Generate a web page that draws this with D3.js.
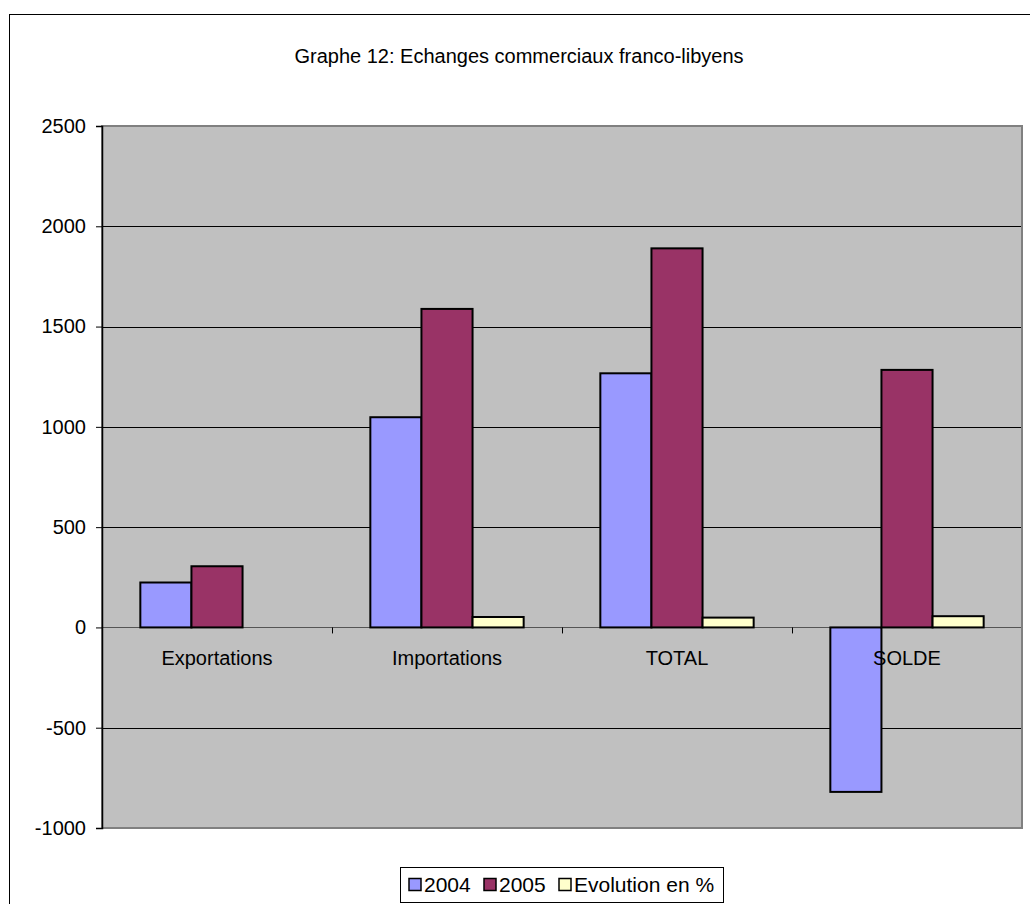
<!DOCTYPE html>
<html>
<head>
<meta charset="utf-8">
<script src="https://cdn.jsdelivr.net/npm/d3@7"></script>
<style>
  body { margin: 0; background: #fff; }
  text { font-family: "Liberation Sans", Arial, sans-serif; fill: #000; }
</style>
</head>
<body>
<svg id="chart" width="1030" height="904"></svg>
<script>
// data
var categories = ["Exportations", "Importations", "TOTAL", "SOLDE"];
var seriesNames = ["2004", "2005", "Evolution en %"];
var values2004 = [224, 1048, 1267, -820];
var values2005 = [305, 1588, 1890, 1284];
var evolution = [null, 52, 49, 56];
var yTicks = [-1000, -500, 0, 500, 1000, 1500, 2000, 2500];

var colors = ["#9999ff", "#993366", "#ffffcc"];

// layout
var plotLeft = 102, plotRight = 1022, plotTop = 126, plotBottom = 828;

var svg = d3.select("#chart");

// outer chart frame
svg.append("rect")
    .attr("x", 9.5).attr("y", 14.5)
    .attr("width", 1030).attr("height", 900)
    .attr("fill", "#fff")
    .attr("stroke", "#000");

// title
svg.append("text")
    .attr("x", 519).attr("y", 63)
    .attr("text-anchor", "middle")
    .style("font-size", "20px")
    .text("Graphe 12: Echanges commerciaux franco-libyens");

var y = d3.scaleLinear().domain([-1000, 2500]).range([plotBottom, plotTop]);
var x0 = d3.scaleBand().domain(categories).range([plotLeft, plotRight]);
// 150% gap width: group = 3 bars + 1.5 bar
var barW = x0.bandwidth() / 4.5;
var x1 = d3.scaleBand().domain(seriesNames)
    .range([barW * 0.75, barW * 3.75]).padding(0);

// plot area
svg.append("rect")
    .attr("x", plotLeft).attr("y", plotTop)
    .attr("width", plotRight - plotLeft).attr("height", plotBottom - plotTop)
    .attr("fill", "#c0c0c0")
    .attr("stroke", "#808080").attr("stroke-width", 2);

// gridlines
svg.append("g").selectAll("line")
    .data(yTicks.filter(function (d) { return d !== -1000 && d !== 2500; }))
    .join("line")
    .attr("x1", plotLeft).attr("x2", plotRight - 1)
    .attr("y1", function (d) { return Math.round(y(d)) + 0.5; })
    .attr("y2", function (d) { return Math.round(y(d)) + 0.5; })
    .attr("stroke", function (d) { return d === 0 ? "#555" : "#000"; })
    .attr("stroke-width", 1);

// bars
var series = [values2004, values2005, evolution];
var barData = [];
categories.forEach(function (c, i) {
    seriesNames.forEach(function (s, j) {
        if (series[j][i] !== null) barData.push({cat: c, name: s, value: series[j][i], color: colors[j]});
    });
});

svg.append("g").selectAll("rect")
    .data(barData)
    .join("rect")
    .attr("x", function (d) { return x0(d.cat) + x1(d.name); })
    .attr("y", function (d) { return y(Math.max(0, d.value)); })
    .attr("width", x1.bandwidth())
    .attr("height", function (d) { return Math.abs(y(d.value) - y(0)); })
    .attr("fill", function (d) { return d.color; })
    .attr("stroke", "#000").attr("stroke-width", 2);

// y axis
var yAxis = d3.axisLeft(y).tickValues(yTicks).tickSize(6)
    .tickFormat(function (d) { return String(d); });
var gy = svg.append("g")
    .attr("transform", "translate(" + plotLeft + ",0)")
    .call(yAxis);
gy.select(".domain").attr("stroke", "#000").attr("stroke-width", 1.5);
gy.selectAll(".tick line").attr("stroke", "#000");
gy.selectAll(".tick text")
    .attr("x", -16)
    .style("font-size", "20px")
    .style("font-family", "'Liberation Sans', Arial, sans-serif");

// x category ticks on zero line
svg.append("g").selectAll("line")
    .data(categories.slice(1))
    .join("line")
    .attr("x1", function (d) { return Math.round(x0(d)) + 0.5; })
    .attr("x2", function (d) { return Math.round(x0(d)) + 0.5; })
    .attr("y1", y(0)).attr("y2", y(0) + 6)
    .attr("stroke", "#000");

// category labels
svg.append("g").selectAll("text")
    .data(categories)
    .join("text")
    .attr("x", function (d) { return x0(d) + x0.bandwidth() / 2; })
    .attr("y", y(0) + 37.5)
    .attr("text-anchor", "middle")
    .style("font-size", "20px")
    .text(function (d) { return d; });

// legend
var legend = svg.append("g");
legend.append("rect")
    .attr("x", 400.5).attr("y", 867.5)
    .attr("width", 323).attr("height", 35)
    .attr("fill", "#fff").attr("stroke", "#000");
var legendX = [409, 484, 559];
seriesNames.forEach(function (s, i) {
    legend.append("rect")
        .attr("x", legendX[i]).attr("y", 878.5)
        .attr("width", 12).attr("height", 12)
        .attr("fill", colors[i]).attr("stroke", "#000").attr("stroke-width", 1.5);
    legend.append("text")
        .attr("x", legendX[i] + 15).attr("y", 892)
        .style("font-size", "21px")
        .text(s);
});
</script>
</body>
</html>
